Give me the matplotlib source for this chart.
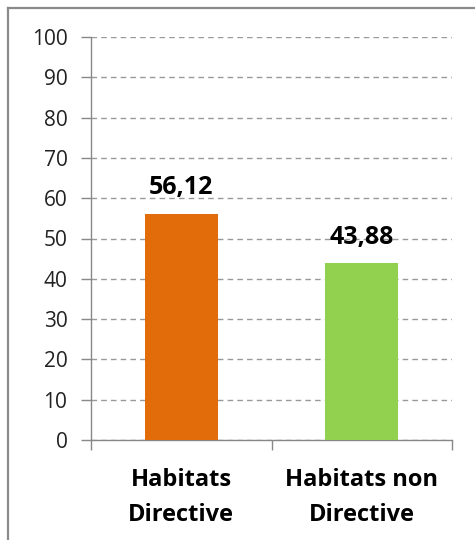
import matplotlib.pyplot as plt
from matplotlib.lines import Line2D

categories = ['Habitats\nDirective', 'Habitats non\nDirective']
values = [56.12, 43.88]
colors = ['#E36C0A', '#92D050']
yticks = [0, 10, 20, 30, 40, 50, 60, 70, 80, 90, 100]

W, H = 475, 540
fig = plt.figure(figsize=(W / 100, H / 100), dpi=100)

# outer frame (cut off on the right and bottom)
fig.add_artist(Line2D([8 / W, 8 / W], [-0.1, 1 - 8 / H], color='#8a8a8a', lw=1.6))
fig.add_artist(Line2D([8 / W, 1.1], [1 - 8 / H, 1 - 8 / H], color='#8a8a8a', lw=1.6))

ax = fig.add_axes([91 / W, 100 / H, (452 - 91) / W, (440 - 37) / H])

x = list(range(len(categories)))
ax.bar(x, values, width=0.405, color=colors, zorder=3)
ax.set_xlim(-0.5, 1.5)
ax.set_ylim(0, 100)

for i, v in enumerate(values):
    ax.annotate(f'{v:.2f}'.replace('.', ','), (i, v), xytext=(0, 14), textcoords='offset points',
                ha='center', va='baseline', fontsize=18, fontweight='bold', family='Open Sans')

ax.set_yticks(yticks)
ax.set_yticklabels([str(t) for t in yticks], family='Open Sans', fontsize=15, color='#222222')
ax.set_xticks(x)
ax.set_xticklabels(categories, family='Open Sans', fontsize=17, fontweight='bold', linespacing=1.62)
ax.set_xticks([-0.5, 0.5, 1.5], minor=True)
ax.tick_params(axis='x', which='major', length=0, pad=20)
ax.tick_params(axis='x', which='minor', length=7, color='#888888', width=1)
ax.tick_params(axis='y', length=7, color='#888888', width=1, pad=10)

ax.yaxis.grid(True, color='#999999', linestyle=(0, (4, 3)), linewidth=1)
ax.set_axisbelow(True)
for s in ['top', 'right']:
    ax.spines[s].set_visible(False)
for s in ['left', 'bottom']:
    ax.spines[s].set_color('#888888')
    ax.spines[s].set_linewidth(1)

fig.savefig('out.png', dpi=100)
